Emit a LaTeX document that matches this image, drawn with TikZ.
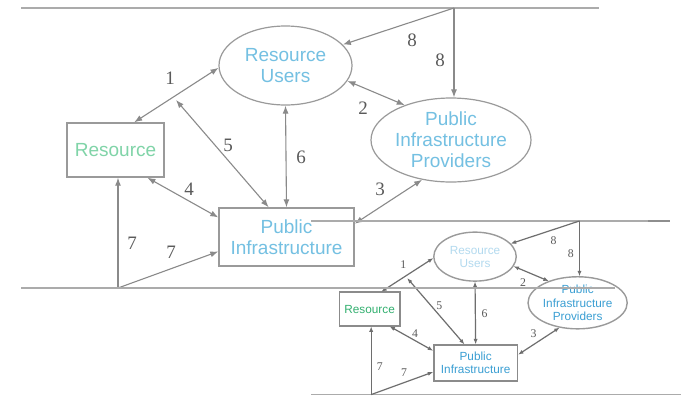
\documentclass[tikz,border=0pt]{standalone}
\usepackage{fontspec}
\setmainfont{Liberation Serif}
\newfontfamily\labfont{Liberation Sans}
\usetikzlibrary{shapes.geometric,arrows.meta}
\definecolor{boxgray}{HTML}{9A9A9A}
\definecolor{linegray}{HTML}{8A8A8A}
\definecolor{numgray}{HTML}{5A5A5A}
\definecolor{rulegray}{HTML}{ABABAB}
\definecolor{darkrule}{HTML}{8E8E8E}
\definecolor{bigblue}{HTML}{74C0E2}
\definecolor{biggreen}{HTML}{80D4A8}
\definecolor{smallblue}{HTML}{3B9FD3}
\definecolor{smallgreen}{HTML}{33B070}
\definecolor{fadeblue}{HTML}{B3DAEF}
\definecolor{smallline}{HTML}{6E6E6E}
\tikzset{
  lab/.style={font=\labfont\fontsize{19}{21}\selectfont, align=center},
  boxnode/.style={lab, draw=boxgray, line width=1.4pt, inner sep=0pt},
  ellnode/.style={lab, ellipse, draw=boxgray, line width=1.2pt, inner sep=0pt},
  num/.style={text=numgray, font=\fontsize{19}{20}\selectfont, inner sep=0pt},
  conn/.style={draw=linegray, line width=1.1pt},
  dbl/.style={conn, {Latex[length=#1, width'=0pt 0.75]}-{Latex[length=#1, width'=0pt 0.75]}},
  sgl/.style={conn, -{Latex[length=#1, width'=0pt 0.75]}},
  rule/.style={draw=rulegray, line width=1.8pt},
}
% #1 prefix, #2 blue, #3 green, #4 users text colour, #5 arrow length
\newcommand\drawdiag[5]{%
  \node[ellnode, minimum width=133, minimum height=79, text=#4] (#1ru) at (285.5,65.5) {Resource\\Users};
  \node[ellnode, minimum width=160, minimum height=84, text=#2] (#1pip) at (451,140) {Public\\Infrastructure\\Providers};
  \node[boxnode, minimum width=97, minimum height=54, text=#3] (#1res) at (115.5,150) {Resource};
  \node[boxnode, minimum width=135, minimum height=58, text=#2] (#1pi) at (286.5,237) {Public\\Infrastructure};
  \coordinate (#1src) at (454,8);
  \coordinate (#1base) at (118,288);
  \coordinate (#1five) at (176,100);
  \draw[sgl=#5] (#1src) -- (#1ru.20);
  \draw[sgl=#5] (#1src) -- (#1src |- #1pip.north);
  \draw[dbl=#5] (#1res.56) -- (#1ru.182);
  \draw[dbl=#5] (#1ru.-14) -- (#1pip.143);
  \draw[dbl=#5] (#1five) -- (#1pi.121);
  \draw[dbl=#5] (#1ru.south) -- (#1pi.north);
  \draw[dbl=#5] (#1res.-41) -- (#1pi.164);
  \draw[dbl=#5] (#1pip.234) -- (#1pi.11);
  \draw[sgl=#5] (#1base) -- (#1base |- #1res.south);
  \draw[sgl=#5] (#1base) -- (#1pi.192);
  \node[num] (#1na) at (412,40) {8};
  \node[num] (#1nb) at (440,60) {8};
  \node[num] (#1n1) at (170,78) {1};
  \node[num] (#1n2) at (363,108) {2};
  \node[num] (#1n5) at (228,145) {5};
  \node[num] (#1n6) at (301,157) {6};
  \node[num] (#1n4) at (189,189) {4};
  \node[num] (#1n3) at (380,189) {3};
  \node[num] (#1n7a) at (132,243) {7};
  \node[num] (#1n7b) at (171,252) {7};
}
\begin{document}
\begin{tikzpicture}[x=1pt, y=-1pt]
  \useasboundingbox (0,0) rectangle (687,397);
  \fill[white] (0,0) rectangle (687,397);
  % large diagram
  \draw[rule] (21,8) -- (599,8);
  \drawdiag{b}{bigblue}{biggreen}{bigblue}{8pt}
  % small copy
  \begin{scope}[shift={(298,216)}, scale=0.62, transform shape,
      conn/.append style={draw=smallline, line width=1.2pt},
      boxnode/.append style={line width=1.7pt, draw=boxgray!90!black},
      ellnode/.append style={line width=1.4pt}]
    \draw[rule, line width=1.4pt] (21,8) -- (599,8);
    \draw[rule, line width=1.8pt] (21,288) -- (618,288);
    \drawdiag{s}{smallblue}{smallgreen}{fadeblue}{5.5pt}
  \end{scope}
  \draw[draw=darkrule, line width=1.6pt] (648,221) -- (670,221);
  % bottom rule of the large diagram, over the small copy
  \draw[rule, line width=2pt] (21,288) -- (615,288);
\end{tikzpicture}
\end{document}
